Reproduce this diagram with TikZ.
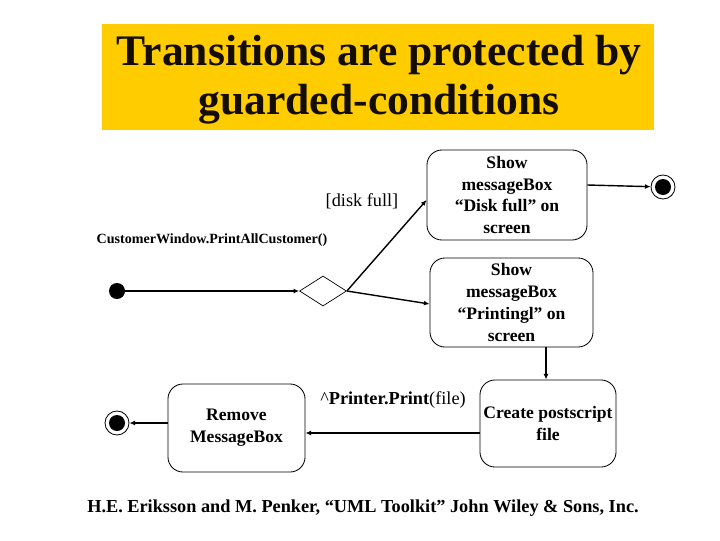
\documentclass[tikz,border=0pt]{standalone}
\usepackage{fontspec}
\setmainfont{Liberation Serif}
\usetikzlibrary{arrows.meta,shapes.geometric}

\definecolor{titlegold}{RGB}{255,204,0}

\begin{document}
\begin{tikzpicture}[x=0.025cm, y=-0.025cm,
    every node/.style={inner sep=0pt},
    state/.style={draw, rounded corners=0.375cm, line width=0.6pt, align=center,
        font=\fontsize{12.5}{15.5}\selectfont\bfseries},
    initial/.style={circle, fill=black, minimum size=0.4cm},
    final/.style={circle, draw, line width=0.6pt, minimum size=0.6cm,
        path picture={\fill (path picture bounding box.center) circle (0.2cm);}},
    choice/.style={diamond, draw, line width=0.5pt, minimum width=1.175cm, minimum height=0.75cm},
    trans/.style={line width=1pt, -{Latex[length=4pt,width=3.5pt]}},
    lbl/.style={font=\fontsize{13}{15}\selectfont}]
  \useasboundingbox (0,0) rectangle (720,540);

  % title
  \fill[titlegold] (102,24) rectangle (654,130);
  \node[align=center, font=\fontsize{31}{35}\selectfont\bfseries, text=black!90!brown] (title)
      at (379,80) {Transitions are protected by\\guarded-conditions};

  % states
  \node[initial] (start) at (117,291) {};
  \node[choice] (guard) at (323,291) {};
  \node[state, minimum width=4cm, minimum height=2.25cm] (diskfull) at (507,195)
      {Show\\messageBox\\``Disk full'' on\\screen};
  \node[final] (endA) at (663,187) {};
  \node[state, minimum width=4.075cm, minimum height=2.225cm] (printing) at (511.5,302.5)
      {Show\\messageBox\\``Printingl'' on\\screen};
  \node[state, minimum width=3.4cm, minimum height=2.175cm] (postscript) at (548,423.5)
      {Create postscript\\file};
  \node[state, minimum width=3.425cm, minimum height=2.2cm] (remove) at (236.5,428)
      {Remove\\MessageBox};
  \node[final] (endB) at (117,423) {};

  % transitions
  \draw[trans] (start) -- (guard.west);
  \draw[trans] (guard.east) -- (diskfull.west |- 0,200);
  \draw[trans] (guard.east) -- (printing.west |- 0,304);
  \draw[trans] (diskfull.east |- 0,185) -- (endA);
  \draw[trans] (printing.south -| 546,0) -- (postscript.north -| 546,0);
  \draw[trans] (postscript.west |- 0,433) -- (remove.east |- 0,433);
  \draw[trans] (remove.west |- 0,423) -- (endB);

  % labels
  \node[lbl] (disklbl) at (362,201) {[disk full]};
  \node[font=\fontsize{10}{12}\selectfont\bfseries] (eventlbl) at (212,240)
      {CustomerWindow.PrintAllCustomer()};
  \node[lbl] (sendlbl) at (393,400) {\^{}\textbf{Printer.Print}(file)};
  \node[font=\fontsize{13}{15}\selectfont\bfseries] (source) at (363,508)
      {H.E. Eriksson and M. Penker, ``UML Toolkit'' John Wiley \& Sons, Inc.};
\end{tikzpicture}
\end{document}
